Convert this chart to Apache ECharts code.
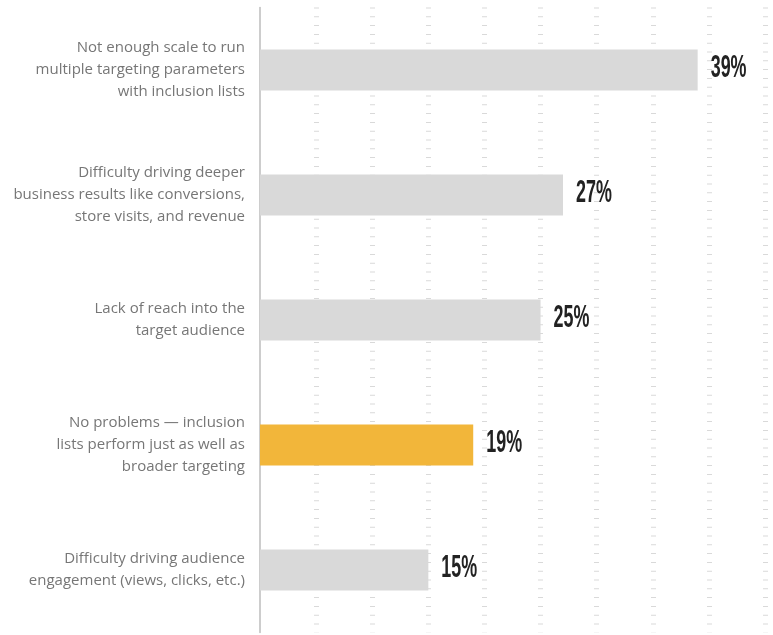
<!DOCTYPE html>
<html>
<head>
<meta charset="utf-8">
<style>
  html, body { margin: 0; padding: 0; background: #ffffff; }
  #chart { width: 773px; height: 635px; }
</style>
<script src="https://cdn.jsdelivr.net/npm/echarts@6/dist/echarts.min.js"></script>
</head>
<body>
<div id="chart"></div>
<script>
// Survey answers, top to bottom
const categories = [
  'Not enough scale to run\nmultiple targeting parameters\nwith inclusion lists',
  'Difficulty driving deeper\nbusiness results like conversions,\nstore visits, and revenue',
  'Lack of reach into the\ntarget audience',
  'No problems \u2014 inclusion\nlists perform just as well as\nbroader targeting',
  'Difficulty driving audience\nengagement (views, clicks, etc.)'
];
// Share of respondents, in percent
const values = [39, 27, 25, 19, 15];
// The answer shown in the accent colour
const highlighted = 'No problems \u2014 inclusion\nlists perform just as well as\nbroader targeting';

const GREY = '#d9d9d9';
const GOLD = '#f2b63a';

const chart = echarts.init(document.getElementById('chart'), null, { renderer: 'canvas' });

chart.setOption({
  animation: false,
  backgroundColor: '#ffffff',
  grid: { left: 260, right: 8, top: 7.5, bottom: 2.5, containLabel: false },
  xAxis: {
    type: 'value',
    min: 0,
    max: 45,
    interval: 5,
    axisLine: { show: false },
    axisTick: { show: false },
    axisLabel: { show: false },
    splitLine: {
      show: true,
      showMinLine: false,
      lineStyle: { color: '#d9d9d9', width: 5, type: [1, 7.8], cap: 'butt' }
    }
  },
  yAxis: {
    type: 'category',
    data: categories,
    inverse: true,
    axisLine: { show: true, lineStyle: { color: '#bdbdbd', width: 1.5 } },
    axisTick: { show: false },
    splitLine: { show: false },
    axisLabel: {
      margin: 15,
      color: '#767676',
      fontFamily: '"Open Sans", "Noto Sans", sans-serif',
      fontSize: 15,
      lineHeight: 22,
      align: 'right'
    }
  },
  series: [
    {
      type: 'bar',
      barWidth: 41,
      data: values.map((v, i) => ({
        value: v,
        itemStyle: { color: categories[i] === highlighted ? GOLD : GREY }
      })),
      z: 2
    },
    {
      // condensed value labels just past each bar end
      type: 'custom',
      z: 3,
      data: values.map((v, i) => [v, i]),
      renderItem: function (params, api) {
        const pt = api.coord([api.value(0), api.value(1)]);
        return {
          type: 'text',
          x: pt[0] + 13,
          y: pt[1] - 2,
          scaleX: 0.56,
          style: {
            text: api.value(0) + '%',
            fill: '#222222',
            font: 'bold 32px "Liberation Sans", Arial, sans-serif',
            textAlign: 'left',
            textVerticalAlign: 'middle',
            verticalAlign: 'middle'
          }
        };
      }
    }
  ]
});
</script>
</body>
</html>
